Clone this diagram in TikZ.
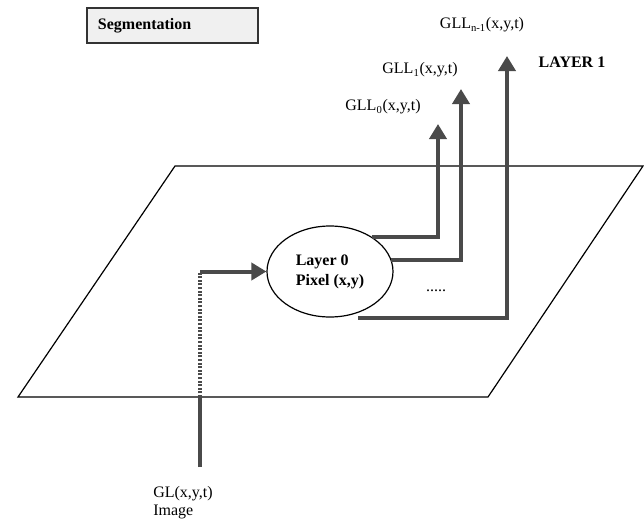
\documentclass[tikz,border=0pt]{standalone}
\usepackage{fontspec}
\setmainfont{Liberation Serif}
\usetikzlibrary{arrows.meta,shapes.geometric}
\definecolor{arrowcol}{HTML}{4A4A4A}
\definecolor{boxfill}{HTML}{F0F0F0}
\definecolor{edgecol}{HTML}{333333}

\begin{document}
\begin{tikzpicture}[x=0.75pt,y=-0.75pt,
	font=\fontsize{12}{13.5}\selectfont,
	flow/.style={draw=arrowcol,line width=3pt},
	flowarrow/.style={flow,-{Triangle[width=12.75pt,length=11.25pt]}},
	hidden/.style={draw=arrowcol,line width=3pt,dash pattern=on 1.5pt off 1.2pt},
	label/.style={inner sep=0pt}]
\useasboundingbox (0,0) rectangle (644,519);
% title box
\node[draw=edgecol,line width=1.5pt,fill=boxfill,anchor=north west,minimum width=128.25pt,minimum height=26.25pt,
	text width=111.75pt,inner xsep=8.25pt,align=left,font=\fontsize{12}{13.5}\selectfont\bfseries] (segbox) at (86,7) {Segmentation};
% image plane
\draw[line width=0.9pt] (175,166) -- (643,166) -- (488,397) -- (18,397) -- cycle;
% pixel node
\node[draw,ellipse,line width=0.9pt,minimum width=94.5pt,minimum height=68.25pt,inner sep=0pt,
	align=left,font=\fontsize{12}{15}\selectfont\bfseries] (layer0) at (330,271.5) {Layer 0\\Pixel (x,y)};
\node[label] (dots) at (436,291) {.....};
% outputs
\coordinate (tip0) at (438,124);
\coordinate (tip1) at (461,89);
\coordinate (tipn) at (507,56);
\node[label] (gll0) at (383,107) {GLL\textsubscript{0}(x,y,t)};
\node[label] (gll1) at (420,70) {GLL\textsubscript{1}(x,y,t)};
\node[label] (glln) at (482,25) {GLL\textsubscript{n-1}(x,y,t)};
\node[label,font=\fontsize{12}{13.5}\selectfont\bfseries] (layer1) at (572,62) {LAYER 1};
\draw[flowarrow] (layer0.40) -| (tip0);
\draw[flowarrow] (layer0.11) -| (tip1);
\draw[flowarrow] ([xshift=21pt]layer0.south) -| (tipn);
% input
\node[label,align=left,anchor=north west] (input) at (153,486) {GL(x,y,t)\\Image};
\coordinate (src) at (200,467);
\coordinate (cross) at (200,397);
\coordinate (bend) at (200,271.5);
\draw[flow] (src) -- (cross);
\draw[hidden] (cross) -- (bend);
\draw[flowarrow] (bend) -- (layer0.west);
\end{tikzpicture}
\end{document}
